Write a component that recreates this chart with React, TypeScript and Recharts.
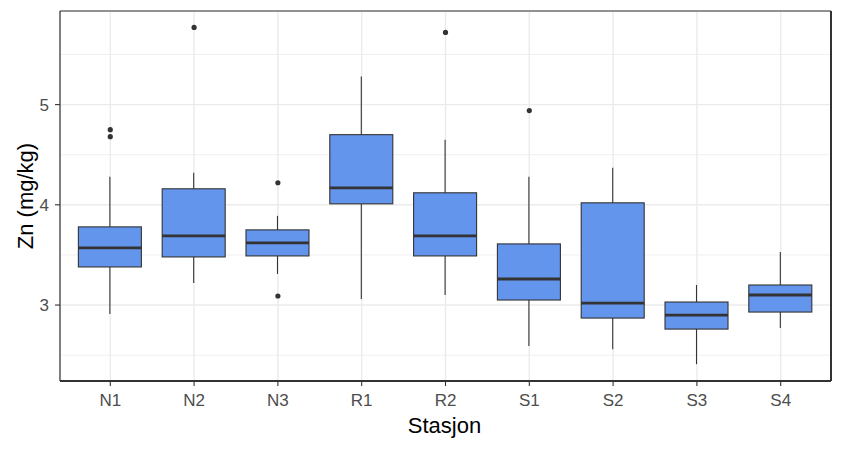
import React from 'react';
import { ComposedChart, Bar, Scatter, XAxis, YAxis, CartesianGrid, ReferenceLine } from 'recharts';

const stations = ['N1', 'N2', 'N3', 'R1', 'R2', 'S1', 'S2', 'S3', 'S4'];
const whiskerLow = [2.91, 3.22, 3.31, 3.06, 3.10, 2.59, 2.56, 2.41, 2.77];
const q1 = [3.38, 3.48, 3.49, 4.01, 3.49, 3.05, 2.87, 2.76, 2.93];
const median = [3.57, 3.69, 3.62, 4.17, 3.69, 3.26, 3.02, 2.90, 3.10];
const q3 = [3.78, 4.16, 3.75, 4.70, 4.12, 3.61, 4.02, 3.03, 3.20];
const whiskerHigh = [4.28, 4.32, 3.89, 5.28, 4.65, 4.28, 4.37, 3.20, 3.53];
const outlierStation = ['N1', 'N1', 'N2', 'N3', 'N3', 'R2', 'S1'];
const outlierValue = [4.75, 4.68, 5.77, 4.22, 3.09, 5.72, 4.94];

const yTicks = [2.5, 3, 3.5, 4, 4.5, 5, 5.5];
const yDomain = [2.242, 5.934];
const xTicks = stations.map((_, i) => i + 1);

const boxData = stations.map((s, i) => ({
  pos: i + 1,
  station: s,
  lo: whiskerLow[i],
  q1: q1[i],
  med: median[i],
  q3: q3[i],
  hi: whiskerHigh[i],
}));

const outlierData = outlierStation.map((s, i) => ({
  pos: stations.indexOf(s) + 1,
  value: outlierValue[i],
}));

const INK = '#333333';
const FONT = '"Liberation Sans", Arial, sans-serif';

// draws whiskers, box and median inside the range bar [lo, hi]
const BoxShape = (props: any) => {
  const { x, y, width, height, payload } = props;
  const top = Math.min(y, y + height);
  const k = Math.abs(height) / (payload.hi - payload.lo);
  const py = (v: number) => top + (payload.hi - v) * k;
  const cx = x + width / 2;
  return (
    <g>
      <line x1={cx} x2={cx} y1={py(payload.hi)} y2={py(payload.q3)} stroke={INK} strokeWidth={1.1} />
      <line x1={cx} x2={cx} y1={py(payload.q1)} y2={py(payload.lo)} stroke={INK} strokeWidth={1.1} />
      <rect
        x={x}
        y={py(payload.q3)}
        width={width}
        height={py(payload.q1) - py(payload.q3)}
        fill="#6495ED"
        stroke={INK}
        strokeWidth={1.1}
      />
      <line x1={x} x2={x + width} y1={py(payload.med)} y2={py(payload.med)} stroke={INK} strokeWidth={2.8} />
    </g>
  );
};

const YTick = (props: any) => {
  const { x, y, payload } = props;
  if (!Number.isInteger(payload.value)) return <g />;
  return (
    <g>
      <line x1={x + 6} x2={x + 11} y1={y} y2={y} stroke={INK} strokeWidth={1.1} />
      <text x={x} y={y} dy="0.355em" textAnchor="end" fill="#4D4D4D" fontSize={17} fontFamily={FONT}>
        {payload.value}
      </text>
    </g>
  );
};

const gridLine = (props: any) => {
  const minor = props.index % 2 === 0;
  return (
    <line
      key={props.key}
      x1={props.x1}
      x2={props.x2}
      y1={props.y1}
      y2={props.y2}
      stroke="#EBEBEB"
      strokeWidth={minor ? 0.75 : 1.4}
    />
  );
};

export default function App() {
  return (
    <div style={{ position: 'absolute', left: 0, top: 0, background: '#fff' }}>
      <ComposedChart
        width={843}
        height={450}
        data={boxData}
        margin={{ top: 11, right: 12, bottom: 0, left: 0 }}
      >
        <CartesianGrid horizontal={gridLine} stroke="#EBEBEB" strokeWidth={1.4} />
        <XAxis
          dataKey="pos"
          type="number"
          domain={[0.4, 9.6]}
          ticks={xTicks}
          interval={0}
          allowDataOverflow
          height={69}
          tickFormatter={(v: number) => stations[v - 1]}
          tick={{ fill: '#4D4D4D', fontSize: 17, fontFamily: FONT }}
          tickSize={5}
          tickMargin={8}
          tickLine={{ stroke: INK, strokeWidth: 1.1 }}
          axisLine={{ stroke: INK, strokeWidth: 2 }}
          label={{
            content: (p: any) => {
              const vb = p.viewBox;
              return (
                <text x={vb.x + vb.width / 2 - 1} y={vb.y + 52} textAnchor="middle" fill="#000" fontSize={22} fontFamily={FONT}>
                  Stasjon
                </text>
              );
            },
          }}
        />
        <YAxis
          type="number"
          domain={yDomain}
          ticks={yTicks}
          interval={0}
          allowDataOverflow
          width={60}
          tick={<YTick />}
          tickSize={5}
          tickMargin={6}
          tickLine={false}
          axisLine={{ stroke: INK, strokeWidth: 1.2 }}
          label={{
            content: (p: any) => {
              const vb = p.viewBox;
              const cy = vb.y + vb.height / 2;
              return (
                <text transform={`translate(33, ${cy}) rotate(-90)`} textAnchor="middle" fill="#000" fontSize={22} fontFamily={FONT}>
                  Zn (mg/kg)
                </text>
              );
            },
          }}
        />
        <Bar dataKey={(d: any) => [d.lo, d.hi]} barSize={63} shape={<BoxShape />} isAnimationActive={false} />
        <Scatter
          data={outlierData}
          dataKey="value"
          isAnimationActive={false}
          shape={(p: any) => <circle cx={p.cx} cy={p.cy} r={2.6} fill={INK} />}
        />
        <ReferenceLine y={yDomain[1]} stroke={INK} strokeWidth={1.2} />
        <ReferenceLine x={9.6} stroke={INK} strokeWidth={2} />
      </ComposedChart>
    </div>
  );
}
